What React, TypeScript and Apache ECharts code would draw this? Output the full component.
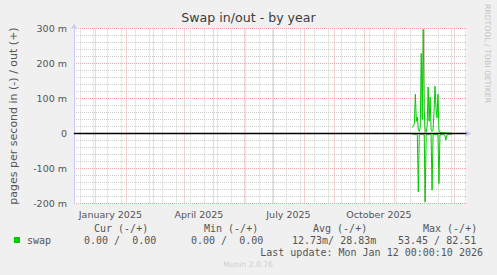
import React, { useEffect, useRef } from "react";
import * as echarts from "echarts";

// ---- data ----
const rangeStart = "2024-12-10";
const rangeEnd = "2026-01-13";
const swapDates = [
  "2025-11-19", "2025-11-20", "2025-11-21", "2025-11-22", "2025-11-23", "2025-11-24", "2025-11-25",
  "2025-11-26", "2025-11-27", "2025-11-28", "2025-11-29", "2025-11-30", "2025-12-01", "2025-12-02",
  "2025-12-03", "2025-12-04", "2025-12-05", "2025-12-06", "2025-12-07", "2025-12-08", "2025-12-09",
  "2025-12-10", "2025-12-11", "2025-12-12", "2025-12-13", "2025-12-14", "2025-12-15", "2025-12-16",
  "2025-12-17", "2025-12-18", "2025-12-19", "2025-12-20", "2025-12-21", "2025-12-22", "2025-12-23",
  "2025-12-24", "2025-12-25", "2025-12-26", "2025-12-27", "2025-12-28", "2025-12-29",
];
// values in milli pages per second
const swapOut = [
  17, 22, 28, 112, 35, 47, 12,
  6, 18, 229, 40, 298, 65, 6,
  4, 20, 133, 35, 104, 12, 6,
  10, 62, 135, 72, 45, 112, 8,
  3, 2, 2, 3, 2, 2, 2,
  2, 1, 1, 1, 1, 1,
];
const swapIn = [
  2, 2, 3, 3, 2, 3, 167,
  4, 2, 3, 2, 3, 4, 195,
  3, 2, 3, 2, 3, 4, 162,
  3, 2, 3, 2, 3, 4, 143,
  4, 3, 2, 2, 3, 5, 19,
  5, 3, 2, 2, 3, 2,
];
const yMin = -200;
const yMax = 300;
const yStep = 100;
const monthNames = [
  "January", "February", "March", "April", "May", "June",
  "July", "August", "September", "October", "November", "December",
];
const labelMonths = [0, 3, 6, 9];

const titleText = "Swap in/out - by year";
const yAxisName = "pages per second in (-) / out (+)";
const legendHeaders = ["Cur (-/+)", "Min (-/+)", "Avg (-/+)", "Max (-/+)"];
const legendName = "swap";
const legendValues = ["0.00 /  0.00", "0.00 /  0.00", "12.73m/ 28.83m", "53.45 / 82.51"];
const lastUpdate = "Last update: Mon Jan 12 00:00:10 2026";
const footer = "Munin 2.0.76";
const watermark = "RRDTOOL / TOBI OETIKER";

// ---- helpers ----
const DAY = 86400000;
const toMs = (s: string) => {
  const [y, m, d] = s.split("-").map(Number);
  return Date.UTC(y, m - 1, d);
};
const fmt = (ms: number) => new Date(ms).toISOString().slice(0, 10);

export default function App() {
  const ref = useRef<HTMLDivElement>(null);

  useEffect(() => {
    if (!ref.current) return;
    const chart = echarts.init(ref.current, undefined, { renderer: "svg" });

    const startMs = toMs(rangeStart);
    const endMs = toMs(rangeEnd);
    const categories: string[] = [];
    for (let t = startMs; t <= endMs; t += DAY) categories.push(fmt(t));

    const outData: (number | null)[] = categories.map(() => null);
    const inData: (number | null)[] = categories.map(() => null);
    swapDates.forEach((d, i) => {
      const idx = categories.indexOf(d);
      if (idx >= 0) {
        outData[idx] = swapOut[i];
        inData[idx] = -swapIn[i];
      }
    });

    const dayOf = (s: string) => Number(s.slice(8, 10));
    const monOf = (s: string) => Number(s.slice(5, 7)) - 1;
    const firstMinor = 6;

    const mono = '"DejaVu Sans Mono", monospace';
    const sans = '"DejaVu Sans", sans-serif';
    const textColor = "#555";
    const axisColor = "#c8ccf4";
    const majorColor = "#eaa8a8";
    const minorColor = "#cccccc";

    const headerX = [94, 204, 313, 423];
    const valueX = [84, 191, 292, 398];

    const graphics: any[] = [];
    legendHeaders.forEach((h, i) =>
      graphics.push({
        type: "text", x: headerX[i], y: 228,
        style: { text: h, font: `10px ${mono}`, fill: textColor, textVerticalAlign: "middle" },
      })
    );
    graphics.push({
      type: "rect", shape: { x: 14, y: 237, width: 6, height: 6 },
      style: { fill: "#00cc00" },
    });
    graphics.push({
      type: "text", x: 27, y: 240,
      style: { text: legendName, font: `10px ${mono}`, fill: textColor, textVerticalAlign: "middle" },
    });
    legendValues.forEach((v, i) =>
      graphics.push({
        type: "text", x: valueX[i], y: 240,
        style: { text: v, font: `10px ${mono}`, fill: textColor, textVerticalAlign: "middle" },
      })
    );
    graphics.push({
      type: "text", x: 483, y: 252,
      style: { text: lastUpdate, font: `10px ${mono}`, fill: textColor, textAlign: "right", textVerticalAlign: "middle" },
    });
    graphics.push({
      type: "text", x: 248, y: 264,
      style: { text: footer, font: `7.6px ${sans}`, fill: "#cfcfcf", textAlign: "center", textVerticalAlign: "middle" },
    });
    graphics.push({
      type: "text", x: 487.5, y: 53.5, rotation: -Math.PI / 2,
      style: { text: watermark, font: `7.7px ${sans}`, fill: "#c4c4c4", textAlign: "center", textVerticalAlign: "middle" },
    });

    chart.setOption({
      animation: false,
      backgroundColor: "#f0f0f0",
      title: {
        text: titleText,
        left: "center",
        top: 11,
        padding: 0,
        textStyle: { fontFamily: sans, fontSize: 12.6, fontWeight: "normal", color: "#3c3c3c" },
      },
      grid: {
        left: 66.5, top: 28.5, width: 400, height: 175,
        show: true, backgroundColor: "#ffffff", borderWidth: 0, containLabel: false,
      },
      xAxis: [
        {
          type: "category",
          data: categories,
          boundaryGap: false,
          z: 3,
          axisLine: {
            show: true,
            lineStyle: { color: axisColor, width: 1 },
            symbol: ["none", "arrow"],
            symbolSize: [5, 6],
            symbolOffset: [0, 5],
          },
          axisTick: { show: false },
          axisLabel: {
            interval: (i: number, v: string) => dayOf(v) === 16 && labelMonths.includes(monOf(v)),
            formatter: (v: string) => `${monthNames[monOf(v)]} ${v.slice(0, 4)}`,
            fontFamily: sans, fontSize: 9.5, color: textColor, margin: 6,
          },
          splitLine: {
            show: true,
            interval: (i: number, v: string) => dayOf(v) === 1,
            lineStyle: { color: majorColor, type: [1, 1], width: 1 },
          },
        },
        {
          type: "category",
          data: categories,
          boundaryGap: false,
          position: "bottom",
          axisLine: { show: false },
          axisTick: { show: false },
          axisLabel: { show: false },
          splitLine: {
            show: true,
            interval: (i: number) => i >= firstMinor && (i - firstMinor) % 14 === 0,
            lineStyle: { color: minorColor, type: [1, 1], width: 1 },
          },
        },
      ],
      yAxis: {
        type: "value",
        min: yMin,
        max: yMax,
        interval: yStep,
        name: yAxisName,
        nameLocation: "middle",
        nameRotate: 90,
        nameGap: 55,
        nameTextStyle: { fontFamily: sans, fontSize: 11, color: textColor },
        axisLine: {
          show: true,
          lineStyle: { color: axisColor, width: 1 },
          symbol: ["none", "arrow"],
          symbolSize: [5, 6],
          symbolOffset: [0, 5],
        },
        axisTick: { show: false },
        axisLabel: {
          formatter: (v: number) => (v === 0 ? "0" : `${v} m`),
          fontFamily: sans, fontSize: 9.5, color: textColor, margin: 7,
        },
        splitLine: { show: true, lineStyle: { color: majorColor, type: [1, 1], width: 1 } },
        minorTick: { show: false, splitNumber: 5 },
        minorSplitLine: { show: true, lineStyle: { color: minorColor, type: [1, 1], width: 1 } },
      },
      series: [
        {
          name: "swap out",
          type: "line",
          data: outData,
          symbol: "none",
          connectNulls: false,
          lineStyle: { color: "#00cc00", width: 1 },
          itemStyle: { color: "#00cc00" },
          z: 3,
        },
        {
          name: "swap in",
          type: "line",
          data: inData,
          symbol: "none",
          connectNulls: false,
          lineStyle: { color: "#00cc00", width: 1 },
          itemStyle: { color: "#00cc00" },
          z: 3,
          markLine: {
            silent: true,
            symbol: ["none", "none"],
            label: { show: false },
            lineStyle: { color: "#000000", width: 1.3, type: "solid" },
            data: [{ yAxis: 0 }],
            z: 5,
          },
        },
      ],
      graphic: graphics,
    });

    return () => chart.dispose();
  }, []);

  return (
    <div
      ref={ref}
      style={{ position: "absolute", left: 0, top: 0, width: 497, height: 275, background: "#f0f0f0" }}
    />
  );
}
